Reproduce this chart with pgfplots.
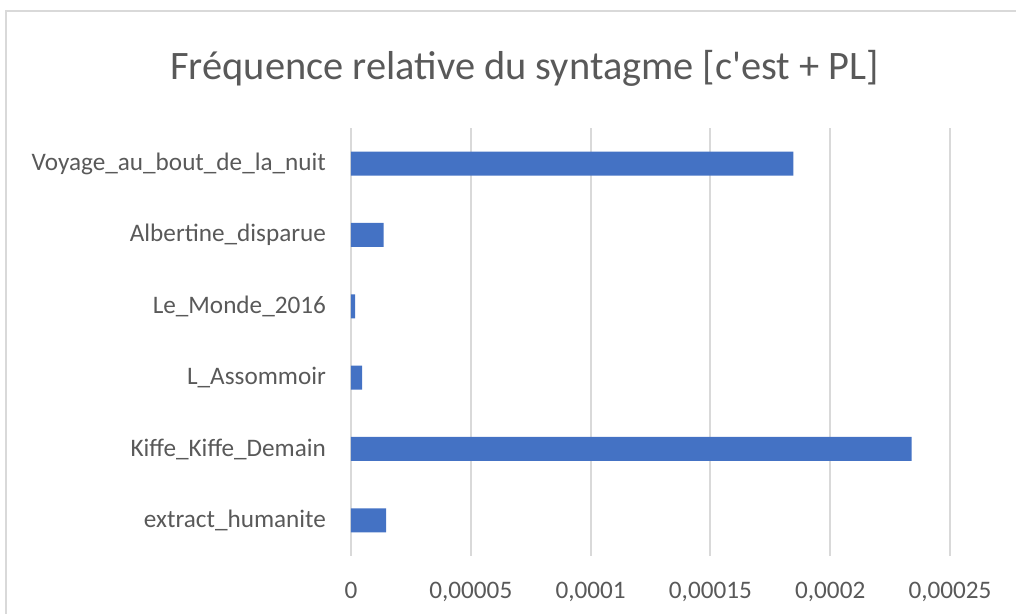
\documentclass[border=0pt]{standalone}
\usepackage{pgfplots}
\pgfplotsset{compat=1.18}
\usepackage{fontspec}
\setmainfont{Carlito}
\definecolor{barblue}{HTML}{4472C4}
\definecolor{gridgray}{HTML}{D9D9D9}
\definecolor{txtgray}{HTML}{595959}
\begin{document}
\begin{tikzpicture}[x=0.5pt,y=0.5pt]
% bounding box: image is 1016x614 px, 1px = 0.5pt; plot area lower-left at (351,556) px from top-left
\path[use as bounding box] (-351,-58) rectangle (665,556);
\draw[gridgray, line width=1pt] (-345,-80) -- (-345,545) -- (700,545);
\begin{axis}[
  at={(0,0)}, anchor=south west,
  scale only axis,
  width=299.5pt, height=214pt,
  xmin=0, xmax=0.00025,
  ymin=-0.5, ymax=5.5,
  axis line style={draw=none},
  major tick length=0pt,
  xtick={0,0.00005,0.0001,0.00015,0.0002,0.00025},
  xticklabels={0,{0,00005},{0,0001},{0,00015},{0,0002},{0,00025}},
  ytick={0,1,2,3,4,5},
  yticklabels={extract\_humanite,Kiffe\_Kiffe\_Demain,L\_Assommoir,Le\_Monde\_2016,Albertine\_disparue,Voyage\_au\_bout\_de\_la\_nuit},
  xmajorgrids,
  grid style={gridgray, line width=1pt},
  tick label style={font=\fontsize{12.6}{14}\selectfont, text=txtgray},
  xticklabel style={yshift=-13pt, inner ysep=0pt, text depth=0pt},
  yticklabel style={xshift=-9pt},
  title={Fréquence relative du syntagme [c\textquotesingle est + PL]},
  title style={font=\fontsize{20.2}{23}\selectfont, text=txtgray, at={(0.29,1)}, anchor=south, yshift=11pt},
  clip=false,
]
\addplot[xbar, bar width=12pt, fill=barblue, draw=none] coordinates {
  (0.0000147,0)
  (0.0002340,1)
  (0.0000046,2)
  (0.0000017,3)
  (0.0000136,4)
  (0.0001846,5)
};
\end{axis}
\end{tikzpicture}
\end{document}
